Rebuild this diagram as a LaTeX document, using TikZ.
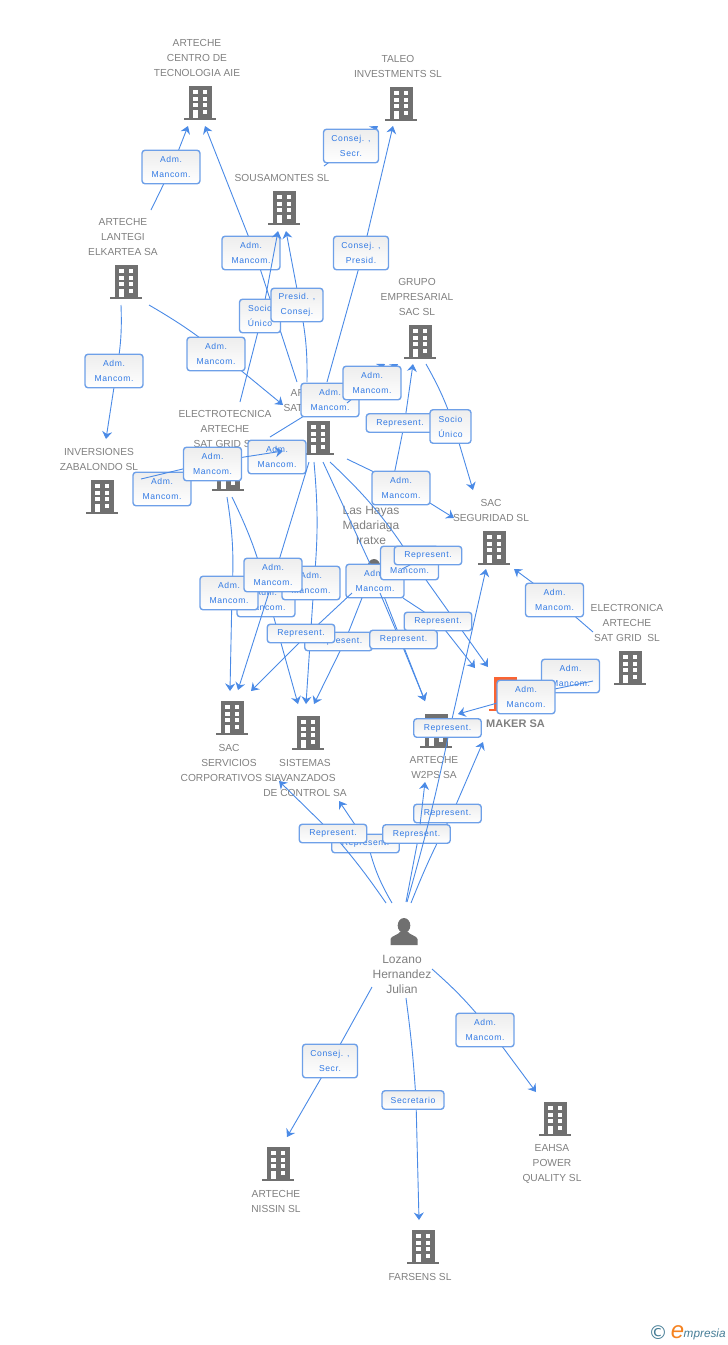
\documentclass[tikz,border=0pt]{standalone}
\usepackage{fontspec}
\setmainfont{Liberation Sans}
\newfontfamily\labfont[LetterSpace=7]{Liberation Sans}
\newfontfamily\logofont{DejaVu Sans}
\usepackage{tikz}
\usetikzlibrary{arrows.meta, positioning}
\definecolor{linkblue}{RGB}{74, 138, 230}
\definecolor{boxline}{RGB}{110, 160, 232}
\definecolor{boxtext}{RGB}{50, 122, 228}
\definecolor{icongray}{RGB}{112, 112, 112}
\definecolor{namegray}{RGB}{128, 128, 128}
\definecolor{makerorange}{RGB}{250, 100, 50}
\definecolor{logoteal}{RGB}{70, 125, 150}
\definecolor{logoorange}{RGB}{245, 130, 32}
\tikzset{
  office/.pic={
    \fill[pic actions] (-11.5,0) rectangle (11.5,31.5);
    \fill[pic actions] (-16,31.5) rectangle (16,34);
    \foreach \wy in {4,10.5,17,23.5} {
      \fill[white] (-6.7,\wy) rectangle (-2.3,\wy+4.2);
      \fill[white] (2.7,\wy) rectangle (7,\wy+4.2);
    }
    \fill[white] (-6.7,28) rectangle (-2.3,31.5);
  },
  person/.pic={
    \fill[pic actions] (0,7.5) ellipse (6.3 and 7.5);
    \fill[pic actions] (-13.5,27) -- (-13.5,21) .. controls (-13,18) and (-6,17) .. (-4,14)
      -- (4,14) .. controls (6,17) and (13,18) .. (13.5,21) -- (13.5,27) -- cycle;
  },
  basename/.style={text=namegray, align=center, inner sep=0pt},
  cname/.style={basename, yshift=-1pt, font=\fontsize{10.2}{15}\selectfont},
  pname/.style={basename, font=\fontsize{12}{15}\selectfont},
  link/.style={-{Stealth[length=7.5pt,width=10pt,inset=2.5pt]}, draw=linkblue, line width=0.9pt},
  lab/.style={draw=boxline, line width=1.4pt, rounded corners=3pt, top color=black!7, bottom color=white,
    text=boxtext, align=center, inner sep=0pt, minimum width=58pt, minimum height=33.5pt,
    font=\labfont\fontsize{8.6}{15}\selectfont, execute at begin node={\vspace{2pt}}},
  replab/.style={lab, minimum width=67.5pt, minimum height=18.5pt}
}
\begin{document}
\begin{tikzpicture}[x=1pt, y=-1pt]
  \useasboundingbox (0,0) rectangle (728,1345);

  % Companies
  \foreach \nm/\px/\py in {centro/200/86, taleo/401/87, sousa/284/191, lantegi/126/265, grupo/420/325,
      artesat/318/421, inver/102/480, electro/228/457, seguridad/494/531, electronica/630/651,
      servicios/232/701, sistemas/308/716, wps/436/714, eahsa/555/1102, nissin/278/1147, farsens/423/1230}
    \pic[fill=icongray] (\nm) at (\px,\py) {office};
  \pic[fill=makerorange] (maker) at (505,677) {office};
  \pic[fill=icongray] (hayas) at (374,559) {person};
  \pic[fill=icongray] (lozano) at (404,918) {person};

  % Names
  \node[cname] (ncentro) at (197,57) {ARTECHE\\CENTRO DE\\TECNOLOGIA AIE};
  \node[cname] (ntaleo) at (398,65.5) {TALEO\\INVESTMENTS SL};
  \node[cname] (nsousa) at (282,177) {SOUSAMONTES SL};
  \node[cname] (nlantegi) at (123,236) {ARTECHE\\LANTEGI\\ELKARTEA SA};
  \node[cname] (ngrupo) at (417,296) {GRUPO\\EMPRESARIAL\\SAC SL};
  \node[cname] (nartesat) at (315,399.5) {ARTECHE\\SAT GRID SL};
  \node[cname] (nelectro) at (225,428) {ELECTROTECNICA\\ARTECHE\\SAT GRID SL};
  \node[cname] (ninver) at (99,458.5) {INVERSIONES\\ZABALONDO SL};
  \node[pname] (nhayas) at (371,525) {Las Hayas\\Madariaga\\Iratxe};
  \node[cname] (nseguridad) at (491,509.5) {SAC\\SEGURIDAD SL};
  \node[cname] (nelectronica) at (627,622) {ELECTRONICA\\ARTECHE\\SAT GRID\ \ SL};
  \node[cname, font=\fontsize{11}{15}\selectfont\bfseries] (nmaker) at (515.5,723) {MAKER SA};
  \node[cname] (nservicios) at (229,762) {SAC\\SERVICIOS\\CORPORATIVOS SL};
  \node[cname] (nsistemas) at (305,777) {SISTEMAS\\AVANZADOS\\DE CONTROL SA};
  \node[cname] (nwps) at (434,766.5) {ARTECHE\\W2PS SA};
  \node[pname] (nlozano) at (402,974) {Lozano\\Hernandez\\Julian};
  \node[cname] (neahsa) at (552,1163) {EAHSA\\POWER\\QUALITY SL};
  \node[cname] (nnissin) at (276,1200.5) {ARTECHE\\NISSIN SL};
  \node[cname] (nfarsens) at (420,1276) {FARSENS SL};

  % Top of the chart
  \coordinate (s1) at (151,210); \coordinate (c1) at (172,167); \coordinate (t1) at (188,126);
  \draw[link] (s1) -- (c1) -- (t1);
  \node[lab] (b1) at (171,167) {Adm.\\Mancom.};

  \coordinate (s2) at (324,166); \coordinate (c2) at (351,146); \coordinate (t2) at (378,126);
  \draw[link] (s2) -- (c2) -- (t2);
  \node[lab, minimum width=55pt] (b2) at (351,146) {Consej. ,\\Secr.};

  \coordinate (s3) at (297,382); \coordinate (c3) at (255,253); \coordinate (t3) at (205,126);
  \draw[link] (s3) -- (c3) -- (t3);
  \node[lab] (b3) at (251,253) {Adm.\\Mancom.};

  \coordinate (s4) at (327,382); \coordinate (c4) at (363,253); \coordinate (t4) at (393,126);
  \draw[link] (s4) -- (c4) -- (t4);
  \node[lab, minimum width=55pt] (b4) at (361,253) {Consej. ,\\Presid.};

  \coordinate (s5) at (240,402); \coordinate (c5) at (262,316); \coordinate (t5) at (278,231);
  \draw[link] (s5) -- (c5) -- (t5);
  \node[lab, minimum width=41pt] (b5) at (260,316) {Socio\\Único};

  \coordinate (s6) at (307,382); \coordinate (c6) at (300,305); \coordinate (t6) at (286,231);
  \draw[link] (s6) to[bend right=6] (c6) -- (t6);
  \node[lab, minimum width=52pt] (b6) at (297,305) {Presid. ,\\Consej.};

  % Lantegi and the group companies
  \coordinate (s7) at (149,305); \coordinate (c7) at (221,354); \coordinate (t7) at (283,405);
  \draw[link] (s7) to[bend left=4] (c7) -- (t7);
  \node[lab] (b7) at (216,354) {Adm.\\Mancom.};

  \coordinate (s8) at (121,305); \coordinate (c8) at (116.5,371); \coordinate (t8) at (106,439);
  \draw[link] (s8) to[bend left=6] (c8) -- (t8);
  \node[lab] (b8) at (114,371) {Adm.\\Mancom.};

  \coordinate (s9) at (270,437); \coordinate (c9) at (330,400); \coordinate (t9) at (385,364);
  \draw[link] (s9) -- (c9) -- (t9);
  \node[lab] (b9) at (330,400) {Adm.\\Mancom.};

  \coordinate (s10) at (347,403); \coordinate (c10) at (372,383); \coordinate (t10) at (398,364);
  \draw[link] (s10) -- (c10) -- (t10);
  \node[lab] (b10) at (372,383) {Adm.\\Mancom.};

  \coordinate (s11) at (391,490); \coordinate (c11) at (404.5,423); \coordinate (t11) at (413,364);
  \draw[link] (s11) -- (c11) -- (t11);
  \node[replab] (b11) at (400,423) {Represent.};

  \coordinate (s12) at (426,364); \coordinate (c12) at (454,426); \coordinate (t12) at (473,490);
  \draw[link] (s12) to[bend left=5] (c12) -- (t12);
  \node[lab, minimum width=41pt] (b12) at (450.5,426.5) {Socio\\Único};

  \coordinate (s13) at (347,459); \coordinate (c13) at (401,485); \coordinate (t13) at (454,518);
  \draw[link] (s13) -- (c13) -- (t13);
  \node[lab] (b13) at (401,488) {Adm.\\Mancom.};

  \node[lab] (b14) at (162,489) {Adm.\\Mancom.};
  \node[lab] (b15) at (277,457) {Adm.\\Mancom.};

  \coordinate (s16) at (141,479); \coordinate (c16) at (212,462); \coordinate (t16) at (283,451);
  \draw[link] (s16) -- (c16) -- (t16);
  \node[lab] (b16) at (212.5,464) {Adm.\\Mancom.};

  % Down to Servicios and Sistemas
  \coordinate (s17) at (232,497); \coordinate (c17) at (269,600); \coordinate (t17) at (298,704);
  \draw[link] (s17) to[bend left=6] (c17) -- (t17);
  \node[lab] (b17) at (266,600) {Adm.\\Mancom.};

  \coordinate (s18) at (227,497); \coordinate (c18) at (232,593); \coordinate (t18) at (230,691);
  \draw[link] (s18) to[bend left=6] (c18) -- (t18);
  \node[lab] (b18) at (229,593) {Adm.\\Mancom.};

  \coordinate (s19) at (314,462); \coordinate (c19) at (314,583); \coordinate (t19) at (306,704);
  \draw[link] (s19) to[bend left=5] (c19) -- (t19);
  \node[lab] (b19) at (311,583) {Adm.\\Mancom.};

  \coordinate (s20) at (309,462); \coordinate (c20) at (274.5,575); \coordinate (t20) at (238,690);
  \draw[link] (s20) -- (c20) -- (t20);
  \node[lab] (b20) at (273,575) {Adm.\\Mancom.};

  \coordinate (s21) at (323,462); \coordinate (c21) at (378,581); \coordinate (t21) at (425,701);
  \draw[link] (s21) -- (c21) -- (t21);
  \node[lab] (b21) at (375,581) {Adm.\\Mancom.};

  \coordinate (s22) at (330,462); \coordinate (c22) at (414,563); \coordinate (t22) at (488,667);
  \draw[link] (s22) to[bend left=7] (c22) -- (t22);
  \node[lab] (b22) at (409.5,563) {Adm.\\Mancom.};

  \coordinate (s23) at (402,569); \coordinate (c23) at (428,555.5);
  \draw[draw=linkblue, line width=0.9pt] (s23) -- (c23);
  \node[replab] (b23) at (428,555.5) {Represent.};

  \coordinate (s24) at (593,632); \coordinate (c24) at (556,600); \coordinate (t24) at (514,569);
  \draw[link] (s24) -- (c24) -- (t24);
  \node[lab] (b24) at (554.5,600) {Adm.\\Mancom.};

  \coordinate (s25) at (362,598); \coordinate (c25) at (345,641); \coordinate (t25) at (314,704);
  \draw[link] (s25) -- (c25) -- (t25);
  \node[replab] (b25) at (338.5,641.5) {Represent.};

  \coordinate (s26) at (352,593); \coordinate (c26) at (308,634); \coordinate (t26) at (251,691);
  \draw[link] (s26) -- (c26) -- (t26);
  \node[replab] (b26) at (301,633.5) {Represent.};

  \coordinate (s27) at (403,598); \coordinate (c27) at (438,621); \coordinate (t27) at (475,668);
  \draw[link] (s27) -- (c27) -- (t27);
  \node[replab] (b27) at (438,621.5) {Represent.};

  \coordinate (s28) at (380,593); \coordinate (c28) at (400,640); \coordinate (t28) at (425,701);
  \draw[link] (s28) -- (c28) -- (t28);
  \node[replab] (b28) at (403.5,639.5) {Represent.};

  % Maker and Electronica
  \node[lab] (b29) at (570.5,676) {Adm.\\Mancom.};

  \coordinate (s30) at (593,681); \coordinate (c30) at (526,695); \coordinate (t30) at (458,714);
  \draw[link] (s30) -- (c30) -- (t30);
  \node[lab] (b30) at (526,697) {Adm.\\Mancom.};

  % Lozano Hernandez Julian
  \coordinate (s31) at (392,903); \coordinate (c31) at (368,844); \coordinate (t31) at (339,801);
  \draw[link] (s31) to[bend left=8] (c31) -- (t31);
  \node[replab] (b31) at (365.5,843.5) {Represent.};

  \coordinate (s32) at (386,903); \coordinate (c32) at (332,833); \coordinate (t32) at (279,781);
  \draw[link] (s32) to[bend right=3] (c32) -- (t32);
  \node[replab] (b32) at (333,833.5) {Represent.};

  \coordinate (s33) at (411,903); \coordinate (c33) at (452,814); \coordinate (t33) at (483,742);
  \draw[link] (s33) to[bend left=3] (c33) -- (t33);
  \node[replab] (b33) at (447.5,813.5) {Represent.};

  \coordinate (s34) at (406,902); \coordinate (c34) at (419,834); \coordinate (t34) at (425,782);
  \draw[link] (s34) -- (c34) -- (t34);
  \node[replab] (b34) at (416.5,834) {Represent.};

  \coordinate (s35) at (407,902); \coordinate (c35) at (450,728); \coordinate (t35) at (486,569);
  \draw[link] (s35) to[bend right=2] (c35) -- (t35);
  \node[replab] (b35) at (447.5,728) {Represent.};

  \coordinate (s36) at (372,987); \coordinate (c36) at (331,1061); \coordinate (t36) at (287,1137);
  \draw[link] (s36) -- (c36) -- (t36);
  \node[lab, minimum width=55pt] (b36) at (330,1061) {Consej. ,\\Secr.};

  \coordinate (s37) at (406,998); \coordinate (c37) at (416,1100); \coordinate (t37) at (419,1220);
  \draw[link] (s37) to[bend left=2] (c37) -- (t37);
  \node[replab, minimum width=62pt] (b37) at (413,1100) {Secretario};

  \coordinate (s38) at (432,969); \coordinate (c38) at (490,1030); \coordinate (t38) at (536,1092);
  \draw[link] (s38) to[bend left=5] (c38) -- (t38);
  \node[lab] (b38) at (485,1030) {Adm.\\Mancom.};

  % Logo
  \node[text=logoteal, inner sep=0pt, font=\logofont\fontsize{19}{19}\selectfont] (copy) at (658,1333) {©};
  \node[text=logoorange, inner sep=0pt, font=\fontsize{24}{24}\selectfont\itshape] (logoe) at (677.5,1332) {e};
  \node[text=logoteal, inner sep=0pt, anchor=west, font=\fontsize{11.8}{15}\selectfont\itshape] (logotxt) at (683.5,1334) {mpresia};
\end{tikzpicture}
\end{document}
